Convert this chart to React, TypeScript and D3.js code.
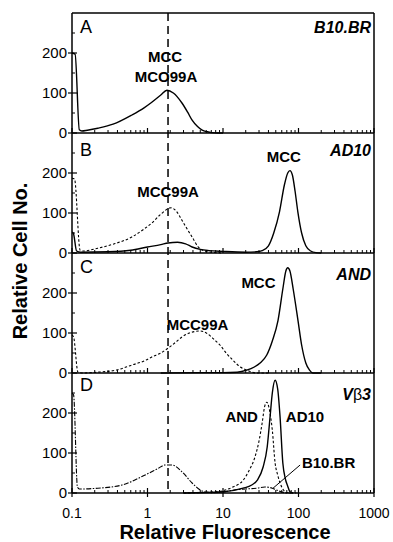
import React from "react";
import * as d3 from "d3";

// ---------- data ----------
const panelLetters = ["A", "B", "C", "D"];
const panelTitles = ["B10.BR", "AD10", "AND", "Vβ3"];
const yTickValues = [0, 100, 200];
const yMinorValues = [50, 150, 250];
const xTickLabels = ["0.1", "1", "10", "100", "1000"];
const xTickValues = [0.1, 1, 10, 100, 1000];
const refLine = 1.87;

// Panel A – B10.BR, MCC / MCO99A (solid)
const aX = [0.1, 0.11, 0.125, 0.135, 0.16, 0.22, 0.35, 0.62, 0.9, 1.14, 1.5, 1.81, 2.2, 2.86, 3.4, 3.9, 4.6, 5.3, 6.2, 7.1, 8.5, 10];
const aY = [200, 197, 8, 5, 7, 12, 22, 45, 63, 77, 95, 107, 100, 75, 52, 32, 16, 7, 3, 1, 0, 0];

// Panel B – AD10, MCC99A (dotted)
const bDotX = [0.1, 0.108, 0.128, 0.14, 0.22, 0.35, 0.62, 0.9, 1.14, 1.5, 2.05, 2.4, 2.86, 3.4, 3.9, 4.7, 5.5, 7, 10];
const bDotY = [187, 185, 7, 5, 12, 22, 40, 60, 75, 97, 113, 105, 82, 58, 40, 15, 6, 2, 0];
// Panel B – AD10, MCC (solid)
const bSolX = [0.1, 0.104, 0.115, 0.13, 0.3, 0.6, 1, 1.5, 1.87, 2.5, 3.2, 3.9, 5, 6.5, 10, 20, 28, 33, 40, 47, 56, 65, 72, 77, 83, 90, 98, 110, 125, 145, 170, 200];
const bSolY = [52, 50, 5, 2, 3, 7, 15, 21, 25, 27, 23, 15, 9, 6, 4, 2, 3, 6, 18, 50, 103, 170, 200, 206, 195, 155, 103, 50, 18, 5, 1, 0];

// Panel C – AND, MCC99A (dotted)
const cDotX = [0.1, 0.105, 0.12, 0.14, 0.22, 0.4, 0.62, 0.9, 1.14, 1.5, 1.87, 2.4, 2.86, 3.6, 4.95, 6, 7.8, 9.1, 11, 13.5, 17, 20.6, 28, 40];
const cDotY = [95, 90, 2, 0, 2, 8, 20, 30, 40, 50, 62, 78, 90, 100, 105, 100, 82, 70, 50, 32, 15, 7, 0, 0];
// Panel C – AND, MCC (solid)
const cSolX = [1.5, 5, 10, 15.4, 20.6, 26, 31, 38, 45, 53.5, 62, 68, 72, 77, 85, 98.5, 110, 125, 140, 155, 200];
const cSolY = [0, 1, 1, 2, 7, 15, 25, 45, 80, 131, 210, 255, 263, 255, 210, 131, 70, 25, 7, 0, 0];

// Panel D – Vβ3, B10.BR (dash-dot)
const dB10X = [0.1, 0.105, 0.118, 0.125, 0.22, 0.46, 0.93, 1.4, 1.7, 2.1, 2.86, 3.9, 5.3, 7, 9.7, 14.5, 20, 28, 36, 45, 55, 70, 100];
const dB10Y = [250, 245, 15, 10, 12, 20, 45, 62, 70, 70, 53, 25, 5, 1, 2, 8, 10, 12, 15, 12, 5, 0, 0];
// Panel D – AND (dotted)
const dAndX = [3, 8, 13.5, 18.5, 22, 26.5, 30, 33, 35.5, 38, 41, 45, 49, 53, 57, 63, 70, 80];
const dAndY = [0, 3, 15, 32, 55, 90, 130, 175, 215, 227, 210, 157, 75, 45, 25, 8, 1, 0];
// Panel D – AD10 (solid)
const dAd10X = [3, 10, 18.5, 24, 28.5, 34, 38.5, 42, 45, 49, 53, 57, 62, 67, 72, 77, 85];
const dAd10Y = [0, 3, 12, 20, 32, 65, 115, 190, 250, 282, 260, 190, 75, 35, 17, 3, 0];

// annotation pointer B10.BR (data coords)
const pointerX = [46, 105];
const pointerY = [12, 70];

const zip = (xs: number[], ys: number[]) => xs.map((x, i) => [x, ys[i]] as [number, number]);

type Series = { pts: [number, number][]; dash: string | null; width: number };
type Label = { text: string; x: number; y: number; anchor: string };

const panelSeries: Series[][] = [
  [{ pts: zip(aX, aY), dash: null, width: 1.4 }],
  [
    { pts: zip(bDotX, bDotY), dash: "2.5,2", width: 1.1 },
    { pts: zip(bSolX, bSolY), dash: null, width: 1.4 },
  ],
  [
    { pts: zip(cDotX, cDotY), dash: "2.5,2", width: 1.1 },
    { pts: zip(cSolX, cSolY), dash: null, width: 1.4 },
  ],
  [
    { pts: zip(dB10X, dB10Y), dash: "5,1.5,1.5,1.5", width: 1.1 },
    { pts: zip(dAndX, dAndY), dash: "2.5,2", width: 1.1 },
    { pts: zip(dAd10X, dAd10Y), dash: null, width: 1.4 },
  ],
];

const panelLabels: Label[][] = [
  [
    { text: "MCC", x: 1.71, y: 177, anchor: "middle" },
    { text: "MCO99A", x: 1.76, y: 127, anchor: "middle" },
  ],
  [
    { text: "MCC99A", x: 1.87, y: 140, anchor: "middle" },
    { text: "MCC", x: 64, y: 227, anchor: "middle" },
  ],
  [
    { text: "MCC99A", x: 4.6, y: 107, anchor: "middle" },
    { text: "MCC", x: 29.5, y: 212, anchor: "middle" },
  ],
  [
    { text: "AND", x: 29, y: 177, anchor: "end" },
    { text: "AD10", x: 68, y: 177, anchor: "start" },
    { text: "B10.BR", x: 111, y: 62, anchor: "start" },
  ],
];

const letterOffsets = [20, 23, 20, 18];
const titleOffsets = [20, 23, 27, 27];

// ---------- layout ----------
const W = 393;
const H = 542;
const left = 72;
const right = 374;
const top0 = 13;
const panelH = 120;
const FONT = "'Liberation Sans', Arial, Helvetica, sans-serif";

export default function App() {
  const x = d3.scaleLog().domain([0.1, 1000]).range([left, right]);
  const minorX: number[] = [];
  for (let e = -1; e < 3; e++) {
    for (let k = 2; k <= 9; k++) minorX.push(k * Math.pow(10, e));
  }
  const bottomAll = top0 + panelH * 4;

  return (
    <svg
      width={W}
      height={H}
      style={{ position: "absolute", left: 0, top: 0, background: "#fff" }}
      fontFamily={FONT}
    >
      <rect x={0} y={0} width={W} height={H} fill="#fff" />
      {panelLetters.map((letter, pi) => {
        const top = top0 + pi * panelH;
        const bottom = top + panelH;
        const y = d3.scaleLinear().domain([0, 300]).range([bottom, top]);
        const line = d3
          .line<[number, number]>()
          .x((d) => x(d[0]))
          .y((d) => y(d[1]))
          .curve(d3.curveMonotoneX);
        const isLast = pi === 3;
        return (
          <g key={letter}>
            {/* bottom separator line */}
            <line x1={left} x2={right} y1={bottom} y2={bottom} stroke="#000" strokeWidth={1.5} />
            {/* x ticks */}
            {xTickValues.map((v) => (
              <line
                key={"M" + v}
                x1={x(v)}
                x2={x(v)}
                y1={bottom + (isLast ? 4 : 0)}
                y2={bottom - 5}
                stroke="#000"
                strokeWidth={1.2}
              />
            ))}
            {minorX.map((v) => (
              <line key={"m" + v} x1={x(v)} x2={x(v)} y1={bottom} y2={bottom - 3} stroke="#000" strokeWidth={1} />
            ))}
            {/* y ticks */}
            {yTickValues.map((v) => (
              <g key={"yt" + v}>
                <line x1={left - 4} x2={left + 5} y1={y(v)} y2={y(v)} stroke="#000" strokeWidth={1.2} />
                <text x={left - 5} y={y(v) + 5} fontSize={15} textAnchor="end" fill="#000">
                  {v}
                </text>
              </g>
            ))}
            {yMinorValues.map((v) => (
              <line key={"ym" + v} x1={left} x2={left + 3} y1={y(v)} y2={y(v)} stroke="#000" strokeWidth={1} />
            ))}
            {/* curves */}
            <g clipPath={undefined}>
              {panelSeries[pi].map((s, si) => (
                <path
                  key={si}
                  d={line(s.pts) || ""}
                  fill="none"
                  stroke="#000"
                  strokeWidth={s.width}
                  strokeDasharray={s.dash || undefined}
                  strokeLinejoin="round"
                />
              ))}
            </g>
            {/* letter */}
            <text x={left + 8} y={top + letterOffsets[pi]} fontSize={18} fill="#000">
              {letter}
            </text>
            {/* title */}
            <text
              x={right - 3}
              y={top + titleOffsets[pi]}
              fontSize={16}
              fontWeight="bold"
              fontStyle="italic"
              textAnchor="end"
              fill="#000"
            >
              {panelTitles[pi] === "Vβ3" ? (
                <>
                  <tspan>V</tspan>
                  <tspan fontWeight="normal" fontStyle="normal">β</tspan>
                  <tspan>3</tspan>
                </>
              ) : (
                panelTitles[pi]
              )}
            </text>
            {/* labels */}
            {panelLabels[pi].map((lb) => (
              <text
                key={lb.text + lb.x}
                x={x(lb.x)}
                y={y(lb.y)}
                fontSize={15}
                fontWeight="bold"
                textAnchor={lb.anchor as any}
                fill="#000"
              >
                {lb.text}
              </text>
            ))}
            {isLast && (
              <line
                x1={x(pointerX[0])}
                y1={y(pointerY[0])}
                x2={x(pointerX[1])}
                y2={y(pointerY[1])}
                stroke="#000"
                strokeWidth={1}
              />
            )}
          </g>
        );
      })}
      {/* frame: top, left, right */}
      <line x1={left} x2={right} y1={top0} y2={top0} stroke="#000" strokeWidth={1.5} />
      <line x1={left} x2={left} y1={top0} y2={bottomAll} stroke="#000" strokeWidth={1.5} />
      <line x1={right} x2={right} y1={top0} y2={bottomAll} stroke="#000" strokeWidth={1.5} />
      {/* dashed reference line */}
      <line
        x1={x(refLine)}
        x2={x(refLine)}
        y1={top0}
        y2={bottomAll}
        stroke="#000"
        strokeWidth={1.5}
        strokeDasharray="8,5"
      />
      {/* x tick labels */}
      {xTickValues.map((v, i) => (
        <text key={"xl" + v} x={x(v)} y={518} fontSize={14} textAnchor="middle" fill="#000">
          {xTickLabels[i]}
        </text>
      ))}
      {/* axis titles */}
      <text x={225} y={539} fontSize={20} fontWeight="bold" textAnchor="middle" fill="#000">
        Relative Fluorescence
      </text>
      <text
        transform="translate(27,261) rotate(-90)"
        fontSize={20}
        fontWeight="bold"
        textAnchor="middle"
        fill="#000"
      >
        Relative Cell No.
      </text>
    </svg>
  );
}
